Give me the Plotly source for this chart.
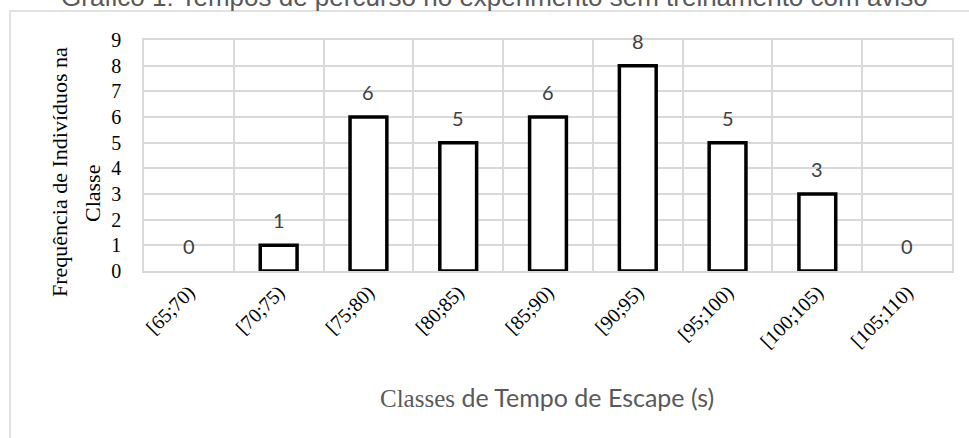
import plotly.graph_objects as go

categories = ["[65;70)", "[70;75)", "[75;80)", "[80;85)", "[85;90)", "[90;95)", "[95;100)", "[100;105)", "[105;110)"]
counts = [0, 1, 6, 5, 6, 8, 5, 3, 0]
y_ticks = list(range(0, 10))

W, H = 969, 438
L, T = 144, 40
R = W - 952
B = H - 271
pw, ph = W - L - R, H - T - B

def px_x(px):
    return (px - L) / pw

def px_y(py):
    return (H - B - py) / ph

fig = go.Figure()
fig.add_trace(go.Bar(
    x=categories, y=counts, width=0.41,
    marker=dict(color="white",
                line=dict(color="black", width=[3.5 if v > 0 else 0 for v in counts])),
    hoverinfo="x+y",
))

for c, v in zip(categories, counts):
    fig.add_annotation(x=c, y=v, xref="x", yref="y", text=str(v), showarrow=False,
                       yshift=25, font=dict(family="Lato", size=20, color="#404040"))

# title (partially cut at top)
fig.add_annotation(x=px_x(494), y=px_y(14), xref="paper", yref="paper",
                   xanchor="center", yanchor="bottom",
                   text="Gráfico 1: Tempos de percurso no experimento sem treinamento com aviso",
                   showarrow=False, font=dict(family="Liberation Sans", size=26, color="#595959"))

# y-axis title lines
fig.add_annotation(x=px_x(59), y=px_y(172), xref="paper", yref="paper",
                   xanchor="center", yanchor="middle",
                   text="Frequência de Indivíduos na", textangle=-90, showarrow=False,
                   font=dict(family="Liberation Serif", size=22, color="black"))
fig.add_annotation(x=px_x(92), y=px_y(194), xref="paper", yref="paper",
                   xanchor="center", yanchor="middle",
                   text="Classe", textangle=-90, showarrow=False,
                   font=dict(family="Liberation Serif", size=22, color="black"))

# x-axis title
fig.add_annotation(x=px_x(547), y=px_y(397), xref="paper", yref="paper",
                   xanchor="center", yanchor="middle",
                   text="<span style='font-family:Liberation Serif'>Classes</span> de Tempo de Escape (s)",
                   showarrow=False, font=dict(family="Lato", size=25, color="#595959"))

# outer chart border
fig.add_shape(type="rect", xref="paper", yref="paper",
              x0=px_x(10), y0=px_y(470), x1=px_x(1000), y1=px_y(11),
              line=dict(color="#d9d9d9", width=1.5), fillcolor="rgba(0,0,0,0)", layer="below")

fig.update_layout(
    width=W, height=H,
    margin=dict(l=L, r=R, t=T, b=B),
    paper_bgcolor="white", plot_bgcolor="white",
    showlegend=False,
    xaxis=dict(type="category", tickson="boundaries", showgrid=True, gridcolor="#d9d9d9", gridwidth=1.5,
               showline=True, linecolor="#d9d9d9", linewidth=1.5, mirror=True,
               ticks="", tickangle=-45,
               tickfont=dict(family="Liberation Serif", size=20, color="black")),
    yaxis=dict(range=[0, 9], tickvals=y_ticks, showgrid=True, gridcolor="#d9d9d9", gridwidth=1.5,
               showline=True, linecolor="#d9d9d9", linewidth=1.5, mirror=True, zeroline=False,
               ticks="", ticklabelstandoff=17,
               tickfont=dict(family="Liberation Serif", size=20, color="black")),
)

fig.write_html("out.html", config={"displayModeBar": False},
               post_script="document.body.style.margin='0';document.body.style.overflow='hidden';")
